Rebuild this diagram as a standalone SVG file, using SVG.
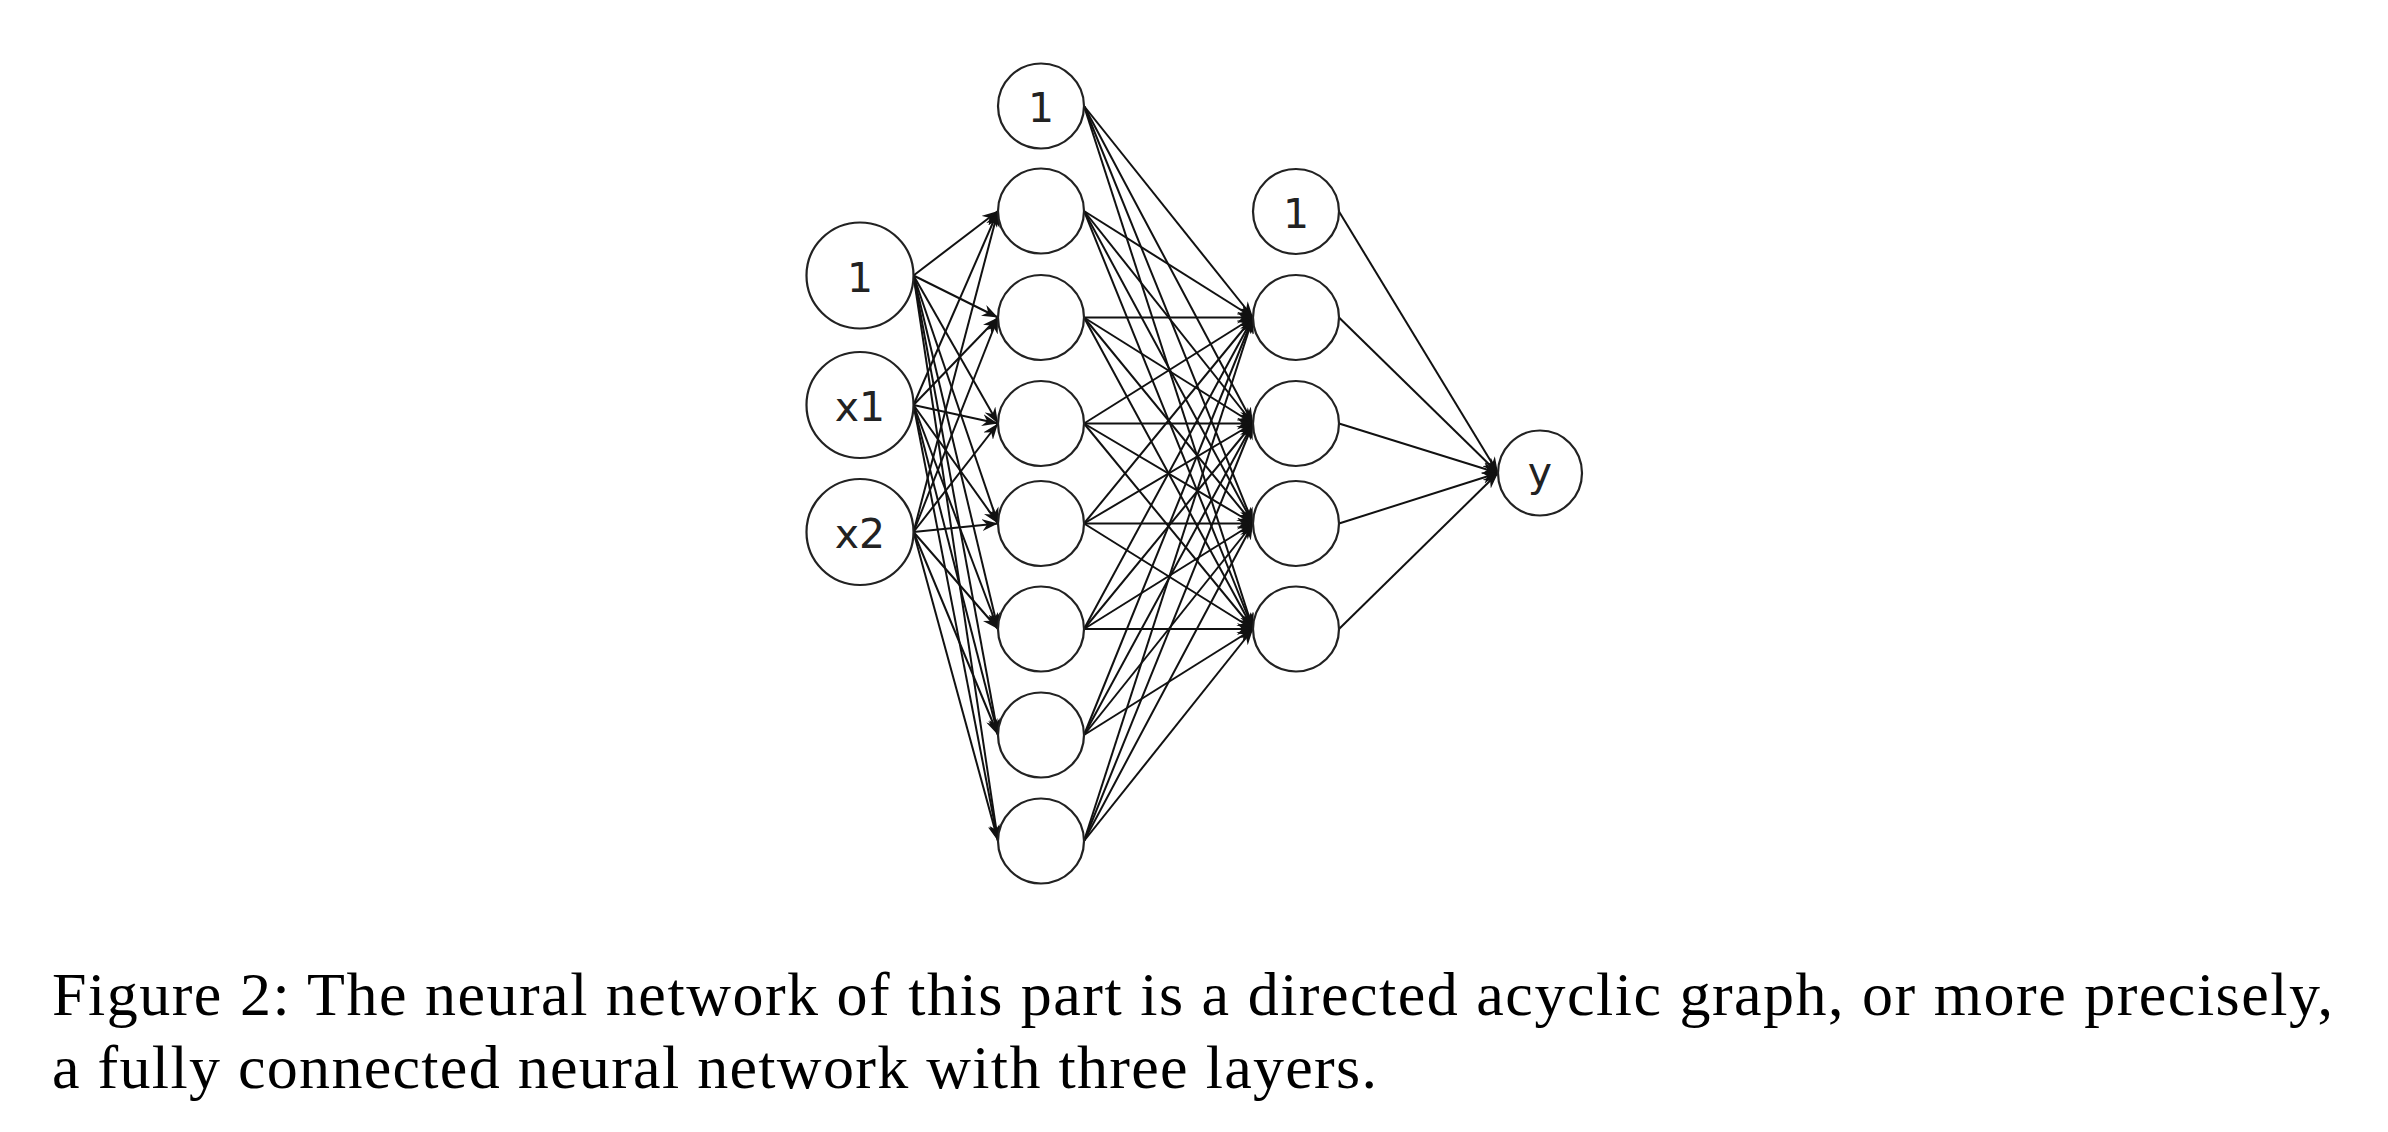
<svg xmlns="http://www.w3.org/2000/svg" width="2388" height="1132" viewBox="0 0 2388 1132">
<style>
  .node ellipse { fill: #ffffff; stroke: #222222; stroke-width: 2.2; }
  .node text { font-family: "DejaVu Sans", sans-serif; font-size: 41px; fill: #222222; text-anchor: middle; }
  #connectors line { stroke: #111111; stroke-width: 2; fill: none; marker-end: url(#arrow); }
  .caption { font-family: "Liberation Serif", "Times New Roman", serif; font-size: 62px; fill: #000000; }
</style>
<defs>
  <marker id="arrow" markerUnits="userSpaceOnUse" viewBox="0 0 16 12" refX="16" refY="6" markerWidth="16" markerHeight="12" orient="auto">
    <path d="M0,0 L16,6 L0,12 L5,6 Z" fill="#111111"/>
  </marker>
</defs>
<rect width="2388" height="1132" fill="#ffffff"/>

<g id="connectors">
  <!-- input -> hidden -->
  <line x1="913.5" y1="275.5" x2="998" y2="211"/>
  <line x1="913.5" y1="275.5" x2="998" y2="317.5"/>
  <line x1="913.5" y1="275.5" x2="998" y2="423.5"/>
  <line x1="913.5" y1="275.5" x2="998" y2="523.5"/>
  <line x1="913.5" y1="275.5" x2="998" y2="629"/>
  <line x1="913.5" y1="275.5" x2="998" y2="735"/>
  <line x1="913.5" y1="275.5" x2="998" y2="841"/>
  <line x1="913.5" y1="405" x2="998" y2="211"/>
  <line x1="913.5" y1="405" x2="998" y2="317.5"/>
  <line x1="913.5" y1="405" x2="998" y2="423.5"/>
  <line x1="913.5" y1="405" x2="998" y2="523.5"/>
  <line x1="913.5" y1="405" x2="998" y2="629"/>
  <line x1="913.5" y1="405" x2="998" y2="735"/>
  <line x1="913.5" y1="405" x2="998" y2="841"/>
  <line x1="913.5" y1="532" x2="998" y2="211"/>
  <line x1="913.5" y1="532" x2="998" y2="317.5"/>
  <line x1="913.5" y1="532" x2="998" y2="423.5"/>
  <line x1="913.5" y1="532" x2="998" y2="523.5"/>
  <line x1="913.5" y1="532" x2="998" y2="629"/>
  <line x1="913.5" y1="532" x2="998" y2="735"/>
  <line x1="913.5" y1="532" x2="998" y2="841"/>
  <!-- hidden -> layer 2 -->
  <line x1="1084" y1="106" x2="1253" y2="317.5"/>
  <line x1="1084" y1="106" x2="1253" y2="423.5"/>
  <line x1="1084" y1="106" x2="1253" y2="523.5"/>
  <line x1="1084" y1="106" x2="1253" y2="629"/>
  <line x1="1084" y1="211" x2="1253" y2="317.5"/>
  <line x1="1084" y1="211" x2="1253" y2="423.5"/>
  <line x1="1084" y1="211" x2="1253" y2="523.5"/>
  <line x1="1084" y1="211" x2="1253" y2="629"/>
  <line x1="1084" y1="317.5" x2="1253" y2="317.5"/>
  <line x1="1084" y1="317.5" x2="1253" y2="423.5"/>
  <line x1="1084" y1="317.5" x2="1253" y2="523.5"/>
  <line x1="1084" y1="317.5" x2="1253" y2="629"/>
  <line x1="1084" y1="423.5" x2="1253" y2="317.5"/>
  <line x1="1084" y1="423.5" x2="1253" y2="423.5"/>
  <line x1="1084" y1="423.5" x2="1253" y2="523.5"/>
  <line x1="1084" y1="423.5" x2="1253" y2="629"/>
  <line x1="1084" y1="523.5" x2="1253" y2="317.5"/>
  <line x1="1084" y1="523.5" x2="1253" y2="423.5"/>
  <line x1="1084" y1="523.5" x2="1253" y2="523.5"/>
  <line x1="1084" y1="523.5" x2="1253" y2="629"/>
  <line x1="1084" y1="629" x2="1253" y2="317.5"/>
  <line x1="1084" y1="629" x2="1253" y2="423.5"/>
  <line x1="1084" y1="629" x2="1253" y2="523.5"/>
  <line x1="1084" y1="629" x2="1253" y2="629"/>
  <line x1="1084" y1="735" x2="1253" y2="317.5"/>
  <line x1="1084" y1="735" x2="1253" y2="423.5"/>
  <line x1="1084" y1="735" x2="1253" y2="523.5"/>
  <line x1="1084" y1="735" x2="1253" y2="629"/>
  <line x1="1084" y1="841" x2="1253" y2="317.5"/>
  <line x1="1084" y1="841" x2="1253" y2="423.5"/>
  <line x1="1084" y1="841" x2="1253" y2="523.5"/>
  <line x1="1084" y1="841" x2="1253" y2="629"/>
  <!-- layer 2 -> output -->
  <line x1="1339" y1="211.5" x2="1498" y2="473"/>
  <line x1="1339" y1="317.5" x2="1498" y2="473"/>
  <line x1="1339" y1="423.5" x2="1498" y2="473"/>
  <line x1="1339" y1="523.5" x2="1498" y2="473"/>
  <line x1="1339" y1="629" x2="1498" y2="473"/>
</g>

<!-- input layer -->
<g id="in-bias" class="node"><ellipse cx="860" cy="275.5" rx="53.5" ry="53"/><text x="860" y="291.5">1</text></g>
<g id="in-x1" class="node"><ellipse cx="860" cy="405" rx="53.5" ry="53"/><text x="860" y="421">x1</text></g>
<g id="in-x2" class="node"><ellipse cx="860" cy="532" rx="53.5" ry="53"/><text x="860" y="548">x2</text></g>

<!-- hidden layer 1 -->
<g id="h1-bias" class="node"><ellipse cx="1041" cy="106" rx="43" ry="42.5"/><text x="1041" y="122">1</text></g>
<g id="h1-n1" class="node"><ellipse cx="1041" cy="211" rx="43" ry="42.5"/></g>
<g id="h1-n2" class="node"><ellipse cx="1041" cy="317.5" rx="43" ry="42.5"/></g>
<g id="h1-n3" class="node"><ellipse cx="1041" cy="423.5" rx="43" ry="42.5"/></g>
<g id="h1-n4" class="node"><ellipse cx="1041" cy="523.5" rx="43" ry="42.5"/></g>
<g id="h1-n5" class="node"><ellipse cx="1041" cy="629" rx="43" ry="42.5"/></g>
<g id="h1-n6" class="node"><ellipse cx="1041" cy="735" rx="43" ry="42.5"/></g>
<g id="h1-n7" class="node"><ellipse cx="1041" cy="841" rx="43" ry="42.5"/></g>

<!-- hidden layer 2 -->
<g id="h2-bias" class="node"><ellipse cx="1296" cy="211.5" rx="43" ry="42.5"/><text x="1296" y="227.5">1</text></g>
<g id="h2-n1" class="node"><ellipse cx="1296" cy="317.5" rx="43" ry="42.5"/></g>
<g id="h2-n2" class="node"><ellipse cx="1296" cy="423.5" rx="43" ry="42.5"/></g>
<g id="h2-n3" class="node"><ellipse cx="1296" cy="523.5" rx="43" ry="42.5"/></g>
<g id="h2-n4" class="node"><ellipse cx="1296" cy="629" rx="43" ry="42.5"/></g>

<!-- output -->
<g id="out-y" class="node"><ellipse cx="1540" cy="473" rx="42" ry="42.5"/><text x="1540" y="486">y</text></g>

<!-- caption -->
<text class="caption" x="52" y="1015" textLength="2281" lengthAdjust="spacing">Figure 2: The neural network of this part is a directed acyclic graph, or more precisely,</text>
<text class="caption" x="52" y="1088" textLength="1325" lengthAdjust="spacing">a fully connected neural network with three layers.</text>
</svg>
